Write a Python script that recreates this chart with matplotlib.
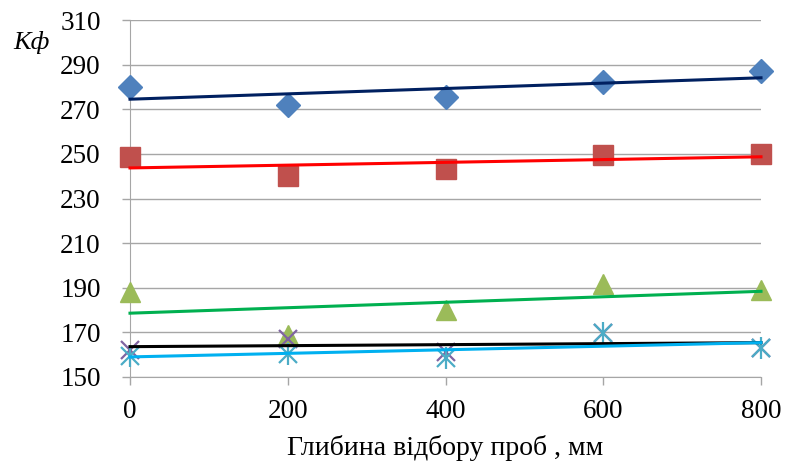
import numpy as np
import matplotlib
matplotlib.use('Agg')
import matplotlib.pyplot as plt

depth = [0, 200, 400, 600, 800]
s1 = [280, 272, 275.5, 282, 287]
s2 = [248.5, 240, 243, 249.5, 250]
s3 = [188, 169, 180, 191.5, 189]
s4 = [162, 167, 161, 169.5, 163]
s5 = [159.5, 160.5, 158.5, 169.5, 163]
yticks = [150, 170, 190, 210, 230, 250, 270, 290, 310]

plt.rcParams['font.family'] = ['Liberation Serif', 'DejaVu Serif']

fig = plt.figure(figsize=(7.85, 4.68), dpi=100)
ax = fig.add_axes([130/785, 1 - 377/468, 631/785, 357/468])

grid_c = '#a6a6a6'
ax.set_xlim(0, 800)
ax.set_ylim(150, 310)
ax.set_yticks(yticks)
ax.set_xticks(depth)
ax.yaxis.grid(True, color=grid_c, lw=1)
ax.set_axisbelow(True)
for s in ['top', 'right']:
    ax.spines[s].set_visible(False)
for s in ['left', 'bottom']:
    ax.spines[s].set_color(grid_c)
ax.tick_params(axis='both', colors=grid_c, length=6, width=1, labelcolor='black', labelsize=19.5)
ax.tick_params(axis='y', pad=15)
ax.tick_params(axis='x', pad=10)

x = np.array(depth)
series = [
    (s1, dict(marker='D', ms=12.5, color='#4f81bd'), '#002060'),
    (s2, dict(marker='s', ms=14, color='#c0504d'), '#ff0000'),
    (s3, dict(marker='^', ms=15, color='#9bbb59'), '#00b050'),
    (s4, dict(marker='x', ms=13, mew=1.6, color='#8064a2'), '#000000'),
    (s5, dict(marker='x', ms=13, mew=1.6, color='#4bacc6'), '#00b0f0'),
]
for vals, mk, lc in series:
    ax.plot(x, vals, ls='none', clip_on=False, zorder=3, **mk)
    if vals is s5:
        ax.plot(x, vals, ls='none', marker='|', ms=16, mew=1.6, color=mk['color'],
                clip_on=False, zorder=3)
for vals, mk, lc in series:
    k, b = np.polyfit(x, vals, 1)
    ax.plot(x, k * x + b, color=lc, lw=2.2, zorder=4, clip_on=False)

ax.set_xlabel('Глибина відбору проб , мм', fontsize=20, labelpad=8)
fig.text(13/785, 1 - 43/468, 'Kф', fontsize=19, style='italic', va='center', ha='left')

fig.savefig('out.png', dpi=100)
